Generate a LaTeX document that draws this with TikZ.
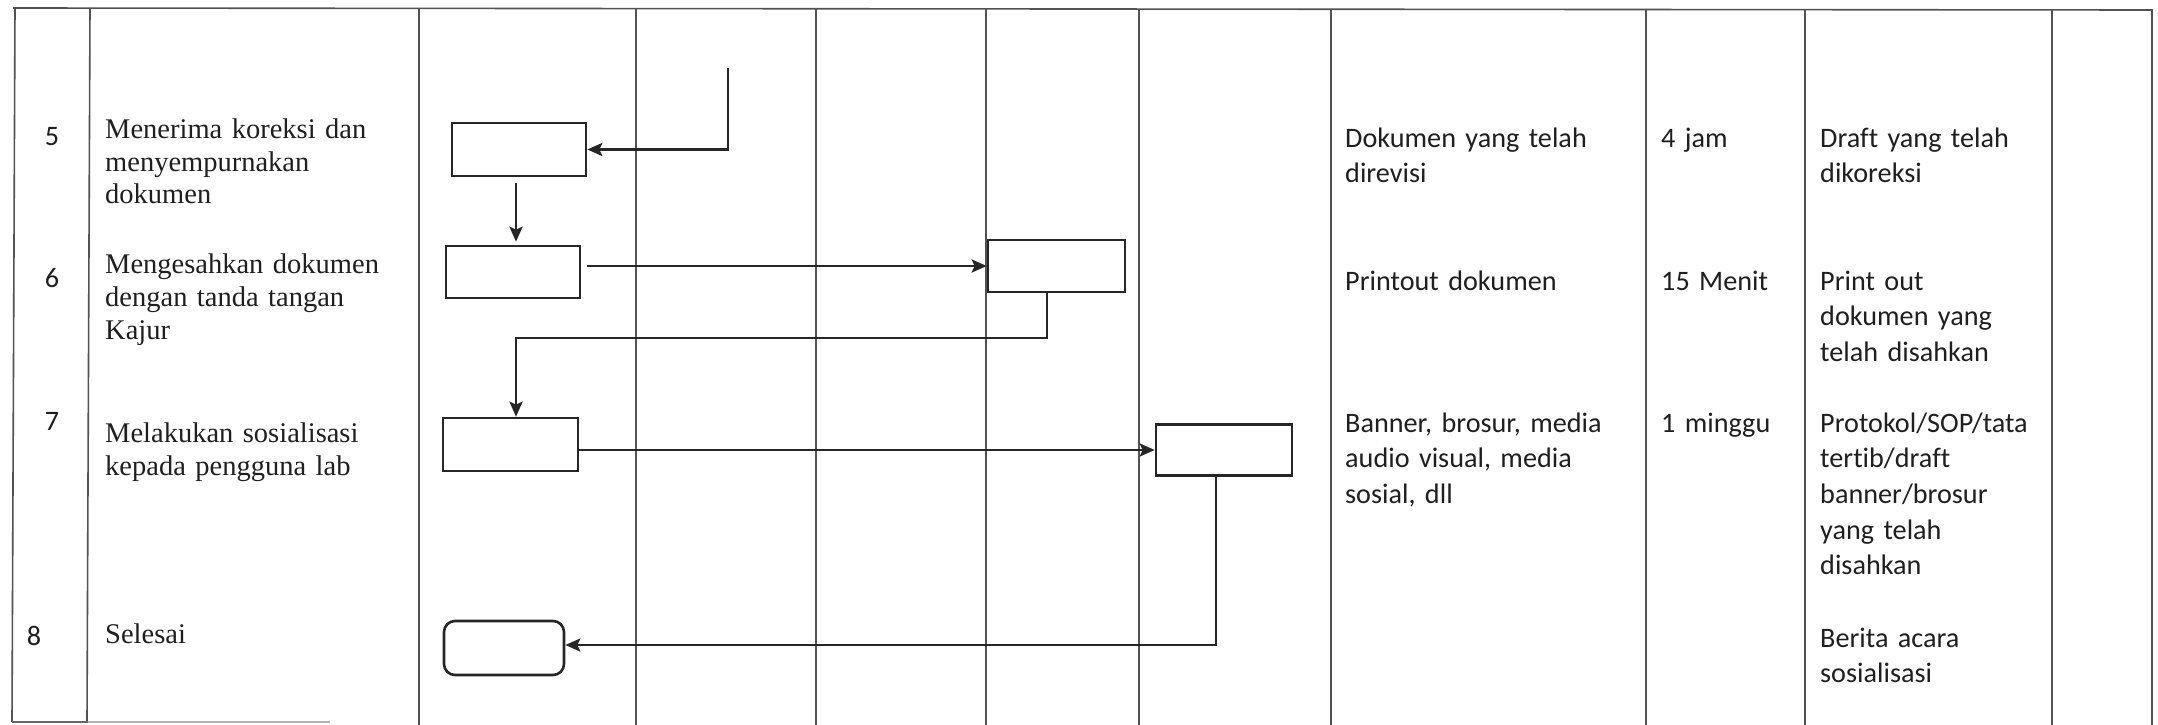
\documentclass[tikz,border=0pt]{standalone}
\usepackage{fontspec}
\setmainfont{Liberation Serif}
\newfontfamily\carlfont[Ligatures=NoCommon]{Carlito}
\usetikzlibrary{arrows.meta}
\newcommand\descfont{\fontsize{28.5}{33}\selectfont}
\newcommand\infofont{\carlfont\fontsize{28.2}{35.7}\selectfont}
\begin{document}
\begin{tikzpicture}[x=1pt,y=-1pt,
  tbl/.style={line width=1.6pt, draw=black!68},
  proc/.style={draw=black!85, line width=2.6pt, inner sep=0pt},
  term/.style={proc, rounded corners=11pt},
  flow/.style={draw=black!85, line width=2.8pt},
  arr/.style={flow, -{Stealth[length=15pt,width=13pt,inset=3pt]}},
  desc/.style={inner sep=0pt, anchor=base west, text width=320pt, align=left, font=\descfont, text=black!88},
  info/.style={inner sep=0pt, anchor=base west, text width=300pt, align=left, font=\infofont, text=black!88},
  num/.style={inner sep=0pt, anchor=base, font=\infofont, text=black!88}]
\useasboundingbox (0,0) rectangle (2158,725);
\fill[white] (0,0) rectangle (2158,725);

% table lines
\draw[tbl] (13,8) -- (2152,10);
\draw[tbl] (15,8) -- (12,722);
\draw[tbl] (90,8) -- (87,722);
\foreach \cx in {419,636,816,986,1139,1331,1646,1805,2052,2152}
  \draw[tbl] (\cx,9) -- (\cx,725);
\draw[line width=1.6pt, draw=black!60] (12,722) -- (88,722);
\draw[line width=1.5pt, draw=black!30] (88,722) -- (330,722);

% numbers
\node[num] (n5) at (52,145) {5};
\node[num] (n6) at (52,287) {6};
\node[num] (n7) at (52,430) {7};
\node[num] (n8) at (34,645) {8};

% descriptions
\node[desc] (t5) at (105,138) {Menerima koreksi dan\\menyempurnakan\\dokumen};
\node[desc] (t6) at (105,273) {Mengesahkan dokumen\\dengan tanda tangan\\Kajur};
\node[desc] (t7) at (105,442) {Melakukan sosialisasi\\kepada pengguna lab};
\node[desc] (t8) at (105,643) {Selesai};

% flow boxes
\node[proc, minimum width=134pt, minimum height=53pt] (b5) at (519,149.5) {};
\node[proc, minimum width=134pt, minimum height=52pt] (b6) at (513,272) {};
\node[proc, minimum width=137pt, minimum height=52pt] (b6b) at (1056.5,266) {};
\node[proc, minimum width=135pt, minimum height=53pt] (b7) at (510.5,444.5) {};
\node[proc, minimum width=136pt, minimum height=51pt] (b7b) at (1224,450) {};
\node[term, minimum width=120pt, minimum height=54pt] (tm) at (504,648) {};

% connectors
\coordinate (c0) at (728,68);
\draw[arr] (c0) |- (b5.east);
\draw[arr, shorten <=6pt, shorten >=3pt] ([xshift=-3pt]b5.south) -- ([xshift=-3pt]b5.south |- b6.north);
\draw[arr, shorten <=6pt] (b6.east |- b6b.west) -- (b6b.west);
\coordinate (k1) at (1047,338);
\coordinate (k2) at (516,338);
\draw[arr] (k1 |- b6b.south) -- (k1) -- (k2) -- (k2 |- b7.north);
\draw[arr] (b7b.west -| b7.east) -- (b7b.west);
\coordinate (k4) at (1216,645);
\draw[arr] (k4 |- b7b.south) -- (k4) -- (k4 -| tm.east);

% info columns
\node[info] (d5) at (1345,147) {Dokumen yang telah\\direvisi};
\node[info] (d6) at (1345,290) {Printout dokumen};
\node[info] (d7) at (1345,432) {Banner, brosur, media\\audio visual, media\\sosial, dll};
\node[info] (w5) at (1661,147) {4 jam};
\node[info] (w6) at (1661,290) {15 Menit};
\node[info] (w7) at (1661,432) {1 minggu};
\node[info] (o5) at (1820,147) {Draft yang telah\\dikoreksi};
\node[info] (o6) at (1820,290) {Print out\\dokumen yang\\telah disahkan};
\node[info] (o7) at (1820,432) {Protokol/SOP/tata\\tertib/draft\\banner/brosur\\yang telah\\disahkan};
\node[info] (o8) at (1820,647) {Berita acara\\sosialisasi};
\end{tikzpicture}
\end{document}
